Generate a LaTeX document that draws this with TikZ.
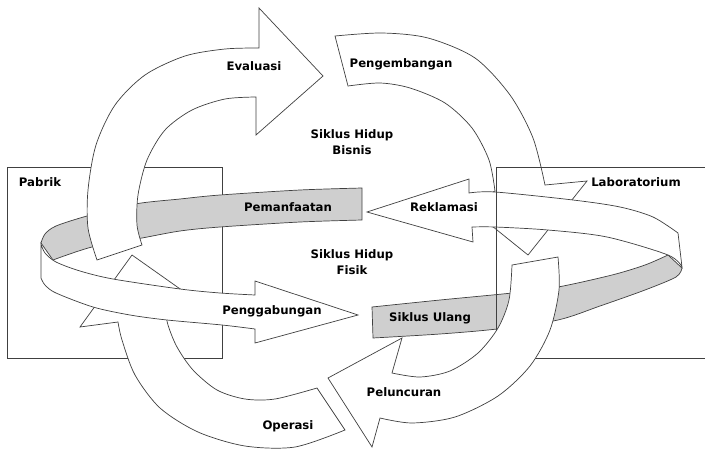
\documentclass[tikz,border=0pt]{standalone}
\usepackage{fontspec}
\setmainfont{DejaVu Sans}
\begin{document}
\begin{tikzpicture}[x=0.03cm,y=-0.03cm,line width=0.6pt,
  panah/.style={draw=black!75,fill=white},
  back/.style={draw=black!75,fill=black!19},
  box/.style={draw=black!75},
  lbl/.style={font=\fontsize{10}{13.6}\selectfont\bfseries,align=center,inner sep=0pt}]
\clip (0,0) rectangle (705,451);

% kotak pabrik
\draw[box] (7,167) rectangle (222,358);

% pita belakang (abu-abu)
\draw[back] plot[smooth] coordinates {(362,188) (300,190) (220,195) (180,199) (135,204) (87,216) (56,226) (45,234) (41,243)}
  -- plot[smooth] coordinates {(53,260) (92,247) (142,238) (180,231) (220,227) (300,222) (362,220)} -- cycle;
\draw[back] plot[smooth] coordinates {(372,307) (440,300) (512,293) (558,287) (612,275) (645,265) (668,255)}
  -- plot[smooth] coordinates {(682,268) (676,277) (645,290) (600,306) (558,320) (497,329) (440,334) (373,338)} -- cycle;

% siklus hidup bisnis
\draw[panah] plot[smooth] coordinates {(97,260) (88,228) (88,190) (96,145) (115,105) (145,75) (185,56) (225,49) (259,48)}
  -- (259,8) -- (323,76) -- (256,135)
  -- plot[smooth] coordinates {(256,97) (225,99) (192,110) (165,130) (147,160) (138,195) (137,225) (142,245)} -- cycle;
\draw[panah] plot[smooth] coordinates {(335,36) (382,33) (428,38) (475,58) (510,95) (533,138) (545,185)}
  -- (587,181) -- (528,255) -- (466,205)
  -- plot[smooth] coordinates {(495,191) (489,160) (472,128) (445,103) (410,88) (380,83) (348,86)} -- cycle;

% siklus hidup fisik
\draw[panah] plot[smooth] coordinates {(345,430) (295,447) (245,446) (198,432) (160,408) (135,375) (122,340) (118,322)}
  -- (80,327) -- (132,255) -- (200,303)
  -- plot[smooth] coordinates {(165,308) (168,325) (177,347) (193,370) (217,390) (245,399) (275,399) (317,388)} -- cycle;

% pita depan
\draw[panah] plot[smooth] coordinates {(41,244) (45,253) (56,262) (80,271) (113,279) (180,289) (220,293) (255,295)}
  -- (255,281) -- (358,315) -- (255,343)
  -- plot[smooth] coordinates {(255,329) (222,325) (167,320) (130,315) (93,307) (56,293) (45,285) (41,278)} -- cycle;
\draw[panah] (367,212) -- (469,179)
  -- plot[smooth] coordinates {(469,193) (495,192) (573,200) (620,207) (653,217) (678,233)}
  -- plot[smooth] coordinates {(682,267) (668,255) (607,237) (548,230) (495,227) (472,227)}
  -- (473,242) -- cycle;

% kotak laboratorium
\draw[box] (496,167) rectangle (720,358);

\draw[panah] plot[smooth] coordinates {(558,257) (559,290) (550,330) (530,366) (498,396) (455,417) (412,423) (380,418)}
  -- (372,447) -- (328,378) -- (402,338)
  -- plot[smooth] coordinates {(392,373) (420,377) (450,371) (478,353) (498,328) (509,300) (512,265)} -- cycle;

% label
\node[lbl] (pabrik) at (40,182) {Pabrik};
\node[lbl] (lab) at (636,182) {Laboratorium};
\node[lbl] (evaluasi) at (254,66) {Evaluasi};
\node[lbl] (pengembangan) at (401,64) {Pengembangan};
\node[lbl] (bisnis) at (352,142) {Siklus Hidup\\Bisnis};
\node[lbl] (fisik) at (352,262) {Siklus Hidup\\Fisik};
\node[lbl] (pemanfaatan) at (288,207) {Pemanfaatan};
\node[lbl] (reklamasi) at (444,207) {Reklamasi};
\node[lbl] (penggabungan) at (272,311) {Penggabungan};
\node[lbl] (ulang) at (430,318) {Siklus Ulang};
\node[lbl] (peluncuran) at (404,392) {Peluncuran};
\node[lbl] (operasi) at (288,426) {Operasi};
\end{tikzpicture}
\end{document}
